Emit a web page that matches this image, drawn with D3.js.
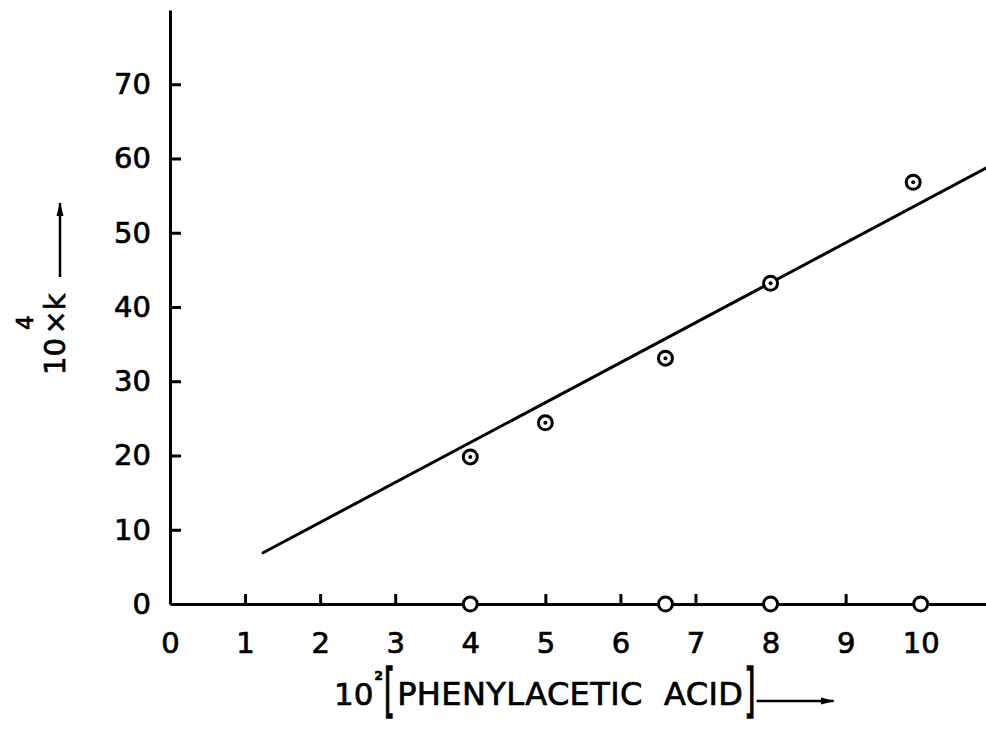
<!DOCTYPE html>
<html>
<head>
<meta charset="utf-8">
<script src="https://cdn.jsdelivr.net/npm/d3@7/dist/d3.min.js"></script>
<style>
  html, body { margin: 0; padding: 0; background: #fff; }
  svg { display: block; }
  text { font-family: "DejaVu Sans", sans-serif; fill: #000; stroke: #000; stroke-width: 0.7px; }
</style>
</head>
<body>
<svg id="chart" width="986" height="731"></svg>
<script>
// Rate constant versus phenylacetic acid concentration
const xTicks = [0, 1, 2, 3, 4, 5, 6, 7, 8, 9, 10];
const yTicks = [0, 10, 20, 30, 40, 50, 60, 70];

// measured points: 10^2 [phenylacetic acid] vs 10^4 x k
const acid = [4.0, 5.0, 6.6, 8.0, 9.9];
const rateK = [19.8, 24.4, 33.1, 43.2, 56.8];

// blank runs lying on the baseline
const blankAcid = [4.0, 6.6, 8.0, 10.0];
const blankK = [0, 0, 0, 0];

// least-squares line, drawn between its two end points
const fitX = [1.24, 10.87];
const fitY = [6.9, 58.7];

const svg = d3.select("#chart");
const x = d3.scaleLinear().domain([0, 10.87]).range([170, 986]);
const y = d3.scaleLinear().domain([0, 80]).range([604, 10]);

const ink = "#000";

// x axis: tick marks point up into the plot
const xAxis = svg.append("g")
  .attr("transform", `translate(0,${y(0)})`)
  .call(d3.axisBottom(x).tickValues(xTicks).tickFormat(d3.format("d"))
    .tickSizeInner(-10).tickSizeOuter(0).tickPadding(28));
xAxis.select(".domain").attr("stroke", ink).attr("stroke-width", 3);
xAxis.selectAll(".tick line").attr("stroke", ink).attr("stroke-width", 3)
  .attr("display", d => (d === 0 || blankAcid.includes(d)) ? "none" : null);
xAxis.selectAll(".tick text").attr("font-size", 29).style("font-family", "DejaVu Sans");

// y axis: tick marks point right into the plot
const yAxis = svg.append("g")
  .attr("transform", `translate(${x(0)},0)`)
  .call(d3.axisLeft(y).tickValues(yTicks).tickFormat(d3.format("d"))
    .tickSizeInner(-11).tickSizeOuter(0).tickPadding(19));
yAxis.select(".domain").attr("stroke", ink).attr("stroke-width", 3);
yAxis.selectAll(".tick line").attr("stroke", ink).attr("stroke-width", 3)
  .attr("display", d => d === 0 ? "none" : null);
yAxis.selectAll(".tick text").attr("font-size", 29).style("font-family", "DejaVu Sans");

// fitted line
svg.append("line")
  .attr("x1", x(fitX[0])).attr("y1", y(fitY[0]))
  .attr("x2", x(fitX[1])).attr("y2", y(fitY[1]))
  .attr("stroke", ink).attr("stroke-width", 3).attr("stroke-linecap", "round");

// measured points: ring with a centre dot
const pts = svg.append("g").selectAll("g")
  .data(acid.map((a, i) => ({ a, k: rateK[i] })))
  .join("g")
  .attr("transform", d => `translate(${x(d.a)},${y(d.k)})`);
pts.append("circle").attr("r", 7).attr("fill", "#fff")
  .attr("stroke", ink).attr("stroke-width", 3);
pts.append("circle").attr("r", 2).attr("fill", ink);

// blank runs: plain rings on the axis
svg.append("g").selectAll("circle")
  .data(blankAcid.map((a, i) => ({ a, k: blankK[i] })))
  .join("circle")
  .attr("cx", d => x(d.a)).attr("cy", d => y(d.k))
  .attr("r", 7).attr("fill", "#fff")
  .attr("stroke", ink).attr("stroke-width", 3);

// arrowhead marker
svg.append("defs").append("marker")
  .attr("id", "head").attr("viewBox", "0 0 14 10")
  .attr("refX", 13).attr("refY", 5)
  .attr("markerWidth", 14).attr("markerHeight", 10)
  .attr("markerUnits", "userSpaceOnUse")
  .attr("orient", "auto")
  .append("path").attr("d", "M0,1.5 L14,5 L0,8.5 Z").attr("fill", ink);

// x-axis title: 10² [PHENYLACETIC ACID] →
const titleY = 705;
const t10 = svg.append("text").attr("x", 334).attr("y", titleY)
  .attr("font-size", 31).text("10");
let cx = t10.node().getBBox().x + t10.node().getBBox().width;
const sup = svg.append("text").attr("x", cx + 1).attr("y", titleY - 25)
  .attr("font-size", 12).attr("font-weight", "bold").text("2");
cx = sup.node().getBBox().x + sup.node().getBBox().width;
// tall thin brackets: a normal glyph stretched vertically
const lb = svg.append("text")
  .attr("transform", `translate(${cx + 1},${titleY + 6}) scale(1,2.05)`)
  .attr("font-size", 29).text("[");
cx = cx + 1 + lb.node().getBBox().width;
const words = svg.append("text").attr("x", cx + 2).attr("y", titleY)
  .attr("font-size", 32).attr("letter-spacing", 0.4)
  .text("PHENYLACETIC\u00a0\u00a0ACID");
const wb = words.node().getBBox();
cx = wb.x + wb.width;
const rb = svg.append("text")
  .attr("transform", `translate(${cx + 1},${titleY + 6}) scale(1,2.05)`)
  .attr("font-size", 29).text("]");
cx = cx + 1 + rb.node().getBBox().width;
svg.append("line")
  .attr("x1", cx + 1).attr("y1", titleY - 4)
  .attr("x2", cx + 78).attr("y2", titleY - 4)
  .attr("stroke", ink).attr("stroke-width", 2.5)
  .attr("marker-end", "url(#head)");

// y-axis title, read bottom to top
const yt = svg.append("text")
  .attr("transform", "translate(65,375) rotate(-90)")
  .attr("font-size", 29);
yt.append("tspan").text("10");
yt.append("tspan").attr("font-size", 23).attr("dy", -32).attr("dx", 8).text("4");
yt.append("tspan").attr("dy", 32).attr("dx", -19).text("\u00d7k");
svg.append("line")
  .attr("x1", 60).attr("y1", 277)
  .attr("x2", 60).attr("y2", 203)
  .attr("stroke", ink).attr("stroke-width", 2.5)
  .attr("marker-end", "url(#head)");
</script>
</body>
</html>
